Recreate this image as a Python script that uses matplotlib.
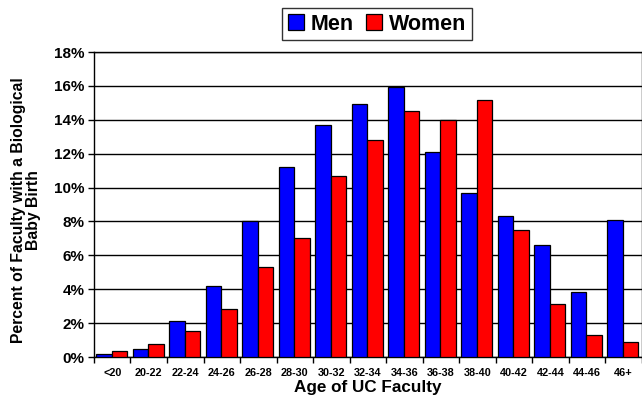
import numpy as np
import matplotlib.pyplot as plt
from matplotlib.ticker import FuncFormatter

plt.rcParams['font.family'] = ['Liberation Sans', 'DejaVu Sans']
plt.rcParams['font.weight'] = 'bold'

age_groups = ['<20', '20-22', '22-24', '24-26', '26-28', '28-30', '30-32', '32-34',
              '34-36', '36-38', '38-40', '40-42', '42-44', '44-46', '46+']
men = [0.18, 0.47, 2.1, 4.22, 8.04, 11.19, 13.72, 14.96, 15.93, 12.09, 9.69, 8.34, 6.63, 3.85, 8.08]
women = [0.35, 0.77, 1.55, 2.81, 5.31, 7.02, 10.68, 12.82, 14.53, 13.96, 15.18, 7.47, 3.13, 1.3, 0.88]

fig = plt.figure(figsize=(6.42, 4.01), dpi=100)
ax = fig.add_axes([0.1464, 0.1097, 0.853, 0.7606])

x = np.arange(len(age_groups))
w = 0.425
ax.bar(x + 0.5 - w / 2 - 0.02, men, w, color='#0000ff', edgecolor='black', linewidth=0.9,
       label='Men', zorder=3)
ax.bar(x + 0.5 + w / 2 - 0.02, women, w, color='#ff0000', edgecolor='black', linewidth=0.9,
       label='Women', zorder=3)

ax.set_xlim(0, len(age_groups))
ax.set_ylim(0, 18)
ax.set_yticks(np.arange(0, 19, 2))
ax.yaxis.set_major_formatter(FuncFormatter(lambda v, p: f'{v:.0f}%'))
ax.tick_params(axis='y', labelsize=11, length=4, width=1, pad=3)

ax.set_xticks(x + 0.5)
ax.set_xticklabels(age_groups, fontsize=7.8)
ax.set_xticks(np.arange(0, len(age_groups) + 1), minor=True)
ax.tick_params(axis='x', which='major', length=0, pad=8)
ax.tick_params(axis='x', which='minor', length=4, width=1)

ax.yaxis.grid(True, color='black', linewidth=1.0, zorder=0)
for s in ['left', 'top', 'right', 'bottom']:
    ax.spines[s].set_color('black')
    ax.spines[s].set_linewidth(1.0)

ax.set_xlabel('Age of UC Faculty', fontsize=12.3, fontweight='bold', labelpad=1)
ax.set_ylabel('Percent of Faculty with a Biological\nBaby Birth', fontsize=11.3,
              fontweight='bold', linespacing=1.05)
ax.yaxis.set_label_coords(-0.0965, 0.482)

leg = fig.legend(loc='center', bbox_to_anchor=(0.587, 0.94), ncol=2,
                 frameon=True, fancybox=False, edgecolor='black', handlelength=0.75,
                 handleheight=0.75, handletextpad=0.3, columnspacing=0.6,
                 borderpad=0.25, prop={'weight': 'bold', 'size': 15.5})
leg.get_frame().set_linewidth(1.0)

fig.savefig('out.png', dpi=100)
